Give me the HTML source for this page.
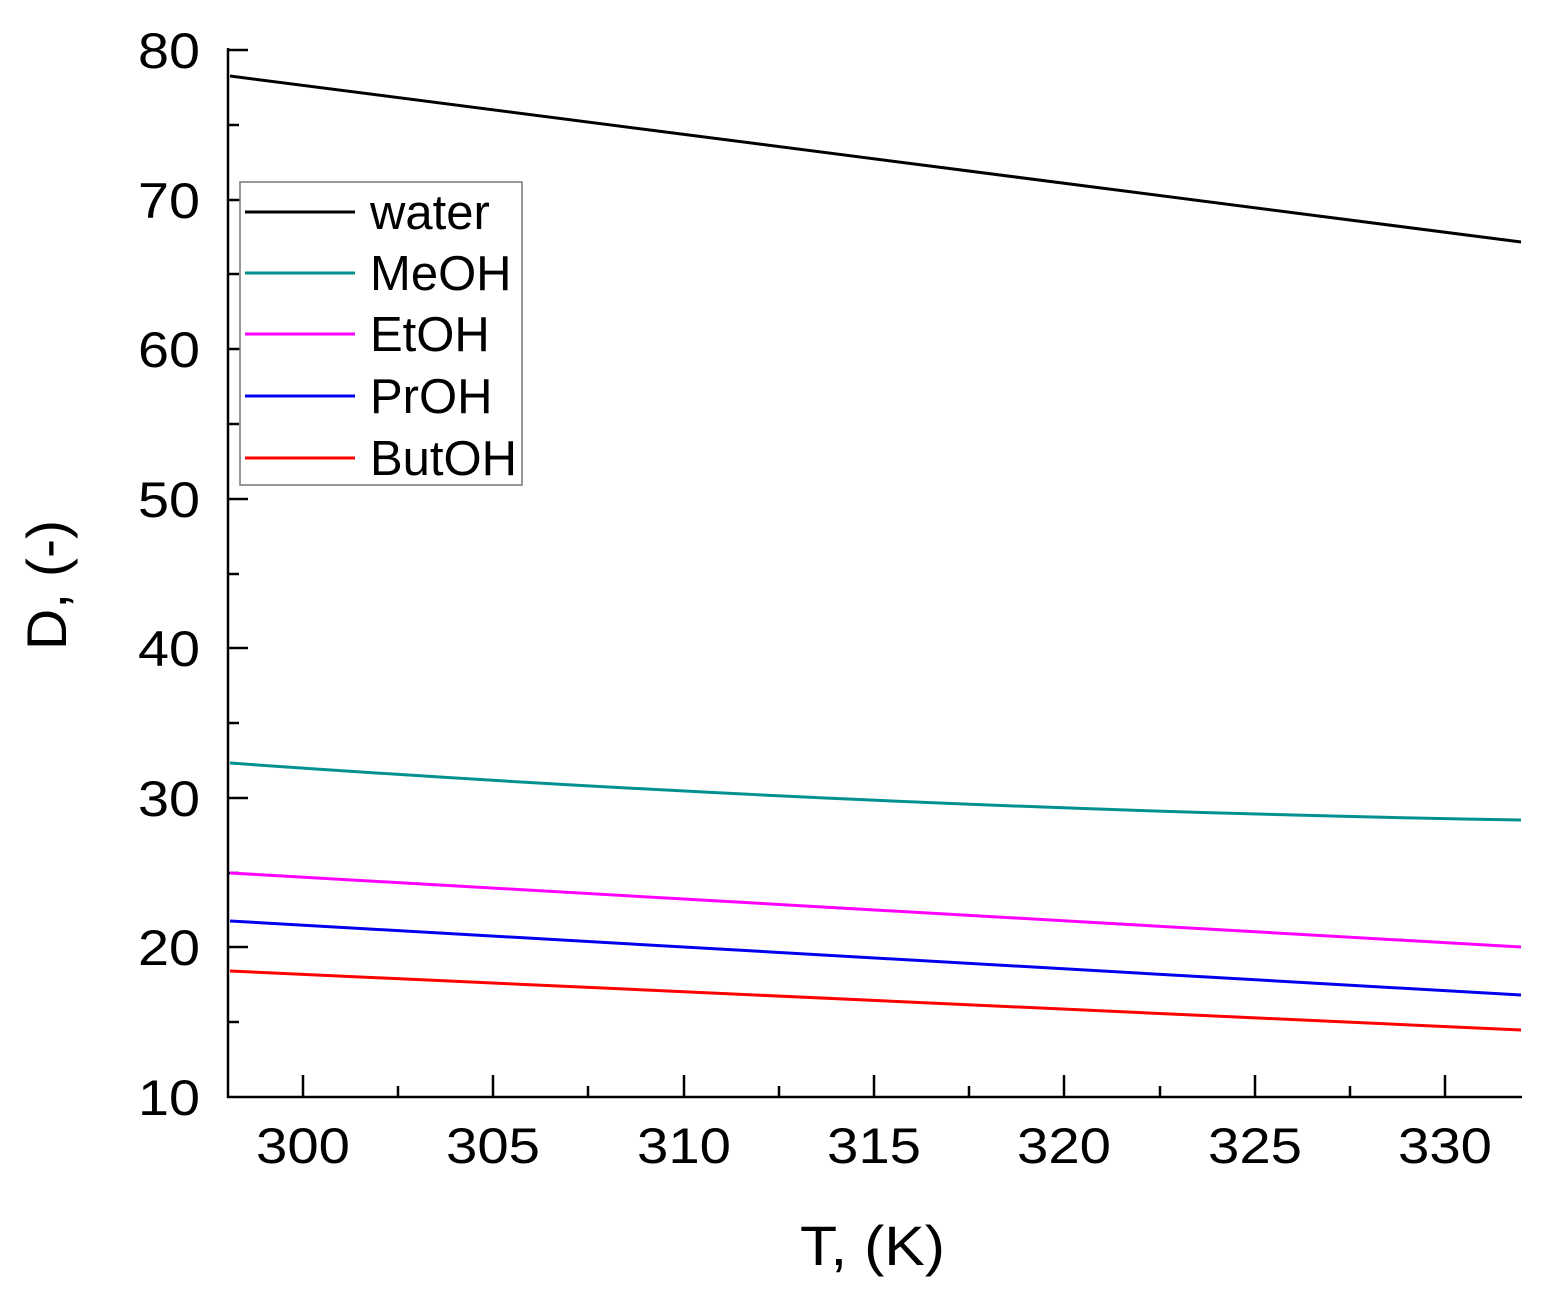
<!DOCTYPE html>
<html><head><style>
html,body{margin:0;padding:0;background:#fff;}
svg{display:block;font-family:"Liberation Sans",sans-serif;}
</style></head><body>
<svg width="1547" height="1304" viewBox="0 0 1547 1304" xmlns="http://www.w3.org/2000/svg">
<g stroke="#000" stroke-width="2.5" fill="none">
<line x1="228" y1="48" x2="228" y2="1098"/>
<line x1="227" y1="1097" x2="1522" y2="1097"/>
<path d="M228 50h20M228 200h20M228 349h20M228 499h20M228 648h20M228 798h20M228 947h20"/>
<path d="M228 125h11M228 274h11M228 424h11M228 574h11M228 723h11M228 873h11M228 1022h11"/>
<path d="M303 1097v-22M493 1097v-22M684 1097v-22M874 1097v-22M1064 1097v-22M1255 1097v-22M1445 1097v-22"/>
<path d="M398 1097v-11M588 1097v-11M779 1097v-11M969 1097v-11M1160 1097v-11M1350 1097v-11"/>
</g>
<g font-size="50" fill="#000" lengthAdjust="spacingAndGlyphs">
<text x="138" y="68" textLength="62" lengthAdjust="spacingAndGlyphs">80</text>
<text x="138" y="218" textLength="62" lengthAdjust="spacingAndGlyphs">70</text>
<text x="138" y="367" textLength="62" lengthAdjust="spacingAndGlyphs">60</text>
<text x="138" y="517" textLength="62" lengthAdjust="spacingAndGlyphs">50</text>
<text x="138" y="666" textLength="62" lengthAdjust="spacingAndGlyphs">40</text>
<text x="138" y="816" textLength="62" lengthAdjust="spacingAndGlyphs">30</text>
<text x="138" y="965" textLength="62" lengthAdjust="spacingAndGlyphs">20</text>
<text x="138" y="1115" textLength="62" lengthAdjust="spacingAndGlyphs">10</text>
<text x="256" y="1163" textLength="94" lengthAdjust="spacingAndGlyphs">300</text>
<text x="446" y="1163" textLength="94" lengthAdjust="spacingAndGlyphs">305</text>
<text x="637" y="1163" textLength="94" lengthAdjust="spacingAndGlyphs">310</text>
<text x="827" y="1163" textLength="94" lengthAdjust="spacingAndGlyphs">315</text>
<text x="1017" y="1163" textLength="94" lengthAdjust="spacingAndGlyphs">320</text>
<text x="1208" y="1163" textLength="94" lengthAdjust="spacingAndGlyphs">325</text>
<text x="1398" y="1163" textLength="94" lengthAdjust="spacingAndGlyphs">330</text>
<text x="800" y="1265" font-size="56" textLength="145" lengthAdjust="spacingAndGlyphs">T, (K)</text>
<text transform="translate(66,650) rotate(-90)" font-size="56" textLength="130" lengthAdjust="spacingAndGlyphs">D, (-)</text>
</g>
<g fill="none" stroke-width="3">
<path d="M230 76 L1521 242" stroke="#000"/>
<path d="M230 763 Q875 809 1521 820" stroke="#009090"/>
<path d="M230 873 L1521 947" stroke="#ff00ff"/>
<path d="M230 921 L1521 995" stroke="#0000ee"/>
<path d="M230 971 L1521 1030" stroke="#ff0000"/>
</g>
<rect x="240" y="182" width="282" height="303" fill="#fff" stroke="#777" stroke-width="1.5"/>
<g stroke-width="3">
<line x1="245" x2="355" y1="212" y2="212" stroke="#000"/>
<line x1="245" x2="355" y1="273" y2="273" stroke="#009090"/>
<line x1="245" x2="355" y1="334" y2="334" stroke="#ff00ff"/>
<line x1="245" x2="355" y1="396" y2="396" stroke="#0000ee"/>
<line x1="245" x2="355" y1="458" y2="458" stroke="#ff0000"/>
</g>
<g font-size="49" fill="#000">
<text x="370" y="229">water</text>
<text x="370" y="290">MeOH</text>
<text x="370" y="351">EtOH</text>
<text x="370" y="413">PrOH</text>
<text x="370" y="475">ButOH</text>
</g>
</svg>
</body></html>
